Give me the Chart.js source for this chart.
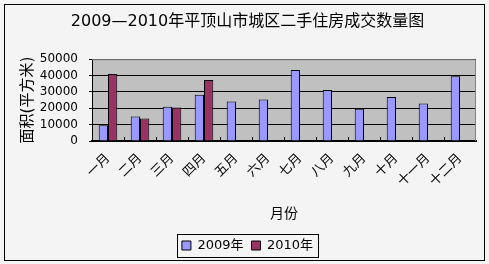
<!DOCTYPE html>
<html>
<head>
<meta charset="utf-8">
<script src="https://cdn.jsdelivr.net/npm/chart.js@4.4.1/dist/chart.umd.min.js"></script>
<style>
  html, body { margin: 0; padding: 0; background: #fff; }
</style>
</head>
<body>
<canvas id="chart" width="489" height="264"></canvas>
<script>
const months = ['一月', '二月', '三月', '四月', '五月', '六月', '七月', '八月', '九月', '十月', '十一月', '十二月'];
const area2009 = [9600, 14900, 20900, 28300, 24100, 25300, 43400, 31100, 19700, 26900, 22900, 39600];
const area2010 = [41000, 13700, 20500, 37300, null, null, null, null, null, null, null, null];
const yTicks = [0, 10000, 20000, 30000, 40000, 50000];

const FONT = '"DejaVu Sans", "Noto Sans CJK SC", sans-serif';

// background, plot area, outer frame, inner ticks and legend frame
const frame = {
    id: 'frame',
    beforeDraw(chart) {
        const { ctx, chartArea: a } = chart;
        ctx.save();
        ctx.fillStyle = '#f4f4f4';
        ctx.fillRect(0, 0, chart.width, chart.height);
        ctx.fillStyle = '#c0c0c0';
        ctx.fillRect(a.left, a.top, a.right - a.left, a.bottom - a.top);
        ctx.restore();
    },
    afterDraw(chart) {
        const { ctx, chartArea: a } = chart;
        const xs = chart.scales.x;
        ctx.save();
        ctx.strokeStyle = '#000';
        ctx.lineWidth = 1;
        ctx.strokeRect(4.5, 4.5, 480, 256);
        ctx.strokeStyle = '#808080';
        ctx.beginPath();
        ctx.moveTo(a.left, a.top + 0.5);
        ctx.lineTo(a.right - 0.5, a.top + 0.5);
        ctx.lineTo(a.right - 0.5, a.bottom);
        ctx.stroke();
        // category tick marks pointing into the plot
        ctx.strokeStyle = '#000';
        ctx.beginPath();
        for (let i = 1; i < months.length; i++) {
            const x = Math.round((xs.getPixelForValue(i - 1) + xs.getPixelForValue(i)) / 2) + 0.5;
            ctx.moveTo(x, a.bottom);
            ctx.lineTo(x, a.bottom - 4);
        }
        ctx.stroke();
        const boxes = chart.legend.legendHitBoxes;
        if (boxes && boxes.length) {
            const l = Math.min(...boxes.map(b => b.left)) - 5;
            const r = Math.max(...boxes.map(b => b.left + b.width)) + 5;
            const t = Math.min(...boxes.map(b => b.top)) - 5;
            const btm = Math.max(...boxes.map(b => b.top + b.height)) + 5;
            ctx.strokeRect(Math.round(l) + 0.5, Math.round(t) + 0.5, Math.round(r - l), Math.round(btm - t));
        }
        ctx.restore();
    }
};

new Chart(document.getElementById('chart'), {
    type: 'bar',
    data: {
        labels: months,
        datasets: [
            { label: '2009年', data: area2009, backgroundColor: '#9999ff', borderColor: '#000', borderWidth: 1 },
            { label: '2010年', data: area2010, backgroundColor: '#993366', borderColor: '#000', borderWidth: 1 }
        ]
    },
    options: {
        responsive: false,
        animation: false,
        devicePixelRatio: 1,
        layout: { padding: { left: 19, right: 13, bottom: 2 } },
        datasets: { bar: { categoryPercentage: 0.58, barPercentage: 1 } },
        plugins: {
            title: {
                display: true,
                text: '2009—2010年平顶山市城区二手住房成交数量图',
                color: '#000',
                font: { family: FONT, size: 16, weight: 'normal' },
                padding: { top: 12, bottom: 28 }
            },
            legend: {
                position: 'bottom',
                labels: {
                    color: '#000',
                    font: { family: FONT, size: 13 },
                    boxWidth: 9,
                    boxHeight: 9,
                    padding: 8
                }
            },
            tooltip: { enabled: false }
        },
        scales: {
            x: {
                grid: { offset: true, drawOnChartArea: false, drawTicks: false },
                border: { color: '#000', width: 2 },
                ticks: { color: '#000', minRotation: 45, maxRotation: 45, padding: 10, font: { family: FONT, size: 13 } },
                title: { display: true, text: '月份', color: '#000', font: { family: FONT, size: 14 }, padding: { top: 0, bottom: 8 } },
                afterFit: s => { s.height = 90; }
            },
            y: {
                min: 0,
                max: 50000,
                afterBuildTicks: s => { s.ticks = yTicks.map(v => ({ value: v })); },
                grid: { color: '#000', tickLength: 3 },
                border: { color: '#000' },
                ticks: { color: '#000', padding: 11, autoSkip: false, font: { family: FONT, size: 12 }, callback: v => String(v) },
                title: { display: true, text: '面积(平方米)', color: '#000', font: { family: FONT, size: 15 }, padding: 0 },
                afterFit: s => { s.width = 73; }
            }
        }
    },
    plugins: [frame]
});
</script>
</body>
</html>
